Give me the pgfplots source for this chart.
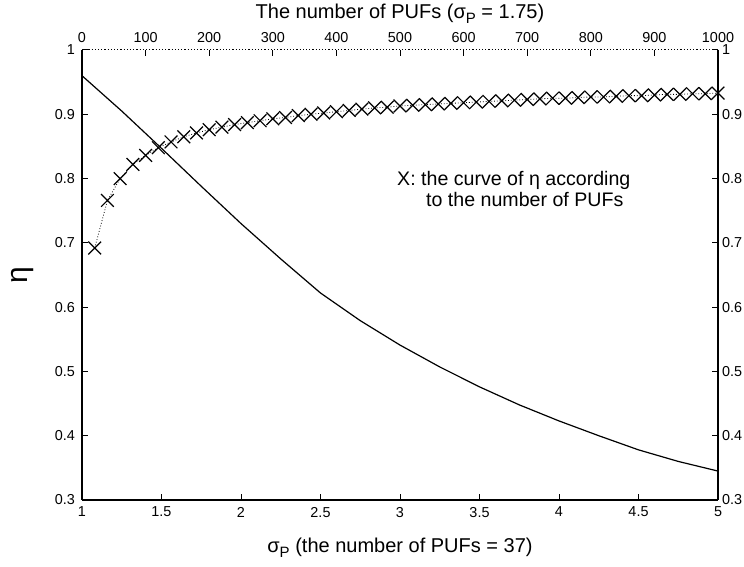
\documentclass[border=0pt]{standalone}
\usepackage{pgfplots}
\pgfplotsset{compat=1.18}
\usepackage{fontspec}
\setmainfont{Liberation Sans}

\begin{document}
\begin{tikzpicture}
% main axis: sigma_P (bottom) vs eta (left)
\begin{axis}[
  at={(0,0)}, anchor=south west,
  scale only axis, width=318pt, height=225pt,
  xmin=1, xmax=5, ymin=0.3, ymax=1,
  axis x line*=bottom, axis y line*=left,
  axis line style={-, line width=0.6pt},
  xtick={1,1.5,2,2.5,3,3.5,4,4.5,5},
  xticklabels={1,1.5,2,2.5,3,3.5,4,4.5,5},
  ytick={0.3,0.4,0.5,0.6,0.7,0.8,0.9,1},
  yticklabels={0.3,0.4,0.5,0.6,0.7,0.8,0.9,1},
  tick align=inside, major tick length=3pt,
  tick style={black, line width=0.5pt},
  ticklabel style={font=\fontsize{7.2}{8}\selectfont},
  /pgf/number format/assume math mode=true,
  xlabel={σ\raisebox{-0.45ex}{\fontsize{7.5}{8}\selectfont P} (the number of PUFs = 37)},
  xlabel style={font=\fontsize{10}{12}\selectfont, at={(axis description cs:0.5,0)}, anchor=base, yshift=-26.5pt},
  ylabel={η},
  ylabel style={font=\fontsize{15}{16}\selectfont, at={(axis description cs:-0.094,0.5)}, anchor=center},
  clip=false,
]
\addplot[black, line width=0.6pt, mark=none] table {
x y
1.00 0.960
1.25 0.905
1.50 0.847
1.75 0.788
2.00 0.730
2.25 0.675
2.50 0.622
2.75 0.579
3.00 0.541
3.25 0.507
3.50 0.476
3.75 0.448
4.00 0.423
4.25 0.400
4.50 0.378
4.75 0.360
5.00 0.345
};
\node[anchor=west, inner sep=0pt, align=left, font=\fontsize{9.8}{10.6}\selectfont]
  at (axis cs:2.98,0.7835) {X: the curve of η according\\\hspace*{14.5pt}to the number of PUFs};
\end{axis}

% second axis: number of PUFs (top) vs eta (right)
\begin{axis}[
  at={(0,0)}, anchor=south west,
  scale only axis, width=318pt, height=225pt,
  xmin=0, xmax=1000, ymin=0.3, ymax=1,
  axis x line*=top, axis y line*=right,
  axis line style={-, line width=0.6pt},
  x axis line style={densely dotted, line width=0.5pt},
  xtick={0,100,200,300,400,500,600,700,800,900,1000},
  xticklabels={0,100,200,300,400,500,600,700,800,900,1000},
  ytick={0.3,0.4,0.5,0.6,0.7,0.8,0.9,1},
  yticklabels={0.3,0.4,0.5,0.6,0.7,0.8,0.9,1},
  tick align=inside, major tick length=3pt,
  tick style={black, line width=0.5pt, solid},
  ticklabel style={font=\fontsize{7.2}{8}\selectfont},
  yticklabel style={inner sep=1.8pt},
  /pgf/number format/assume math mode=true,
  xlabel={The number of PUFs (σ\raisebox{-0.45ex}{\fontsize{7.5}{8}\selectfont P} = 1.75)},
  xlabel style={font=\fontsize{10}{12}\selectfont, at={(axis description cs:0.5,1)}, anchor=base, yshift=15.5pt},
  clip=false,
]
\addplot[black, densely dotted, line width=0.4pt, mark=x, mark size=4.5pt,
  mark options={solid, line width=0.6pt}] table {
x y
20 0.692
40 0.766
60 0.800
80 0.822
100 0.836
120 0.848
140 0.857
160 0.865
180 0.871
200 0.876
220 0.880
240 0.884
260 0.887
280 0.890
300 0.893
320 0.895
340 0.898
360 0.900
380 0.902
400 0.904
420 0.906
440 0.908
460 0.910
480 0.911
500 0.913
520 0.914
540 0.915
560 0.916
580 0.917
600 0.918
620 0.919
640 0.920
660 0.921
680 0.922
700 0.923
720 0.924
740 0.925
760 0.925
780 0.926
800 0.927
820 0.927
840 0.928
860 0.929
880 0.929
900 0.930
920 0.931
940 0.931
960 0.932
980 0.932
1000 0.933
};
\end{axis}
\pgfresetboundingbox
\path[use as bounding box] (-41pt,-33.5pt) rectangle (331pt,250pt);
\end{tikzpicture}
\end{document}
